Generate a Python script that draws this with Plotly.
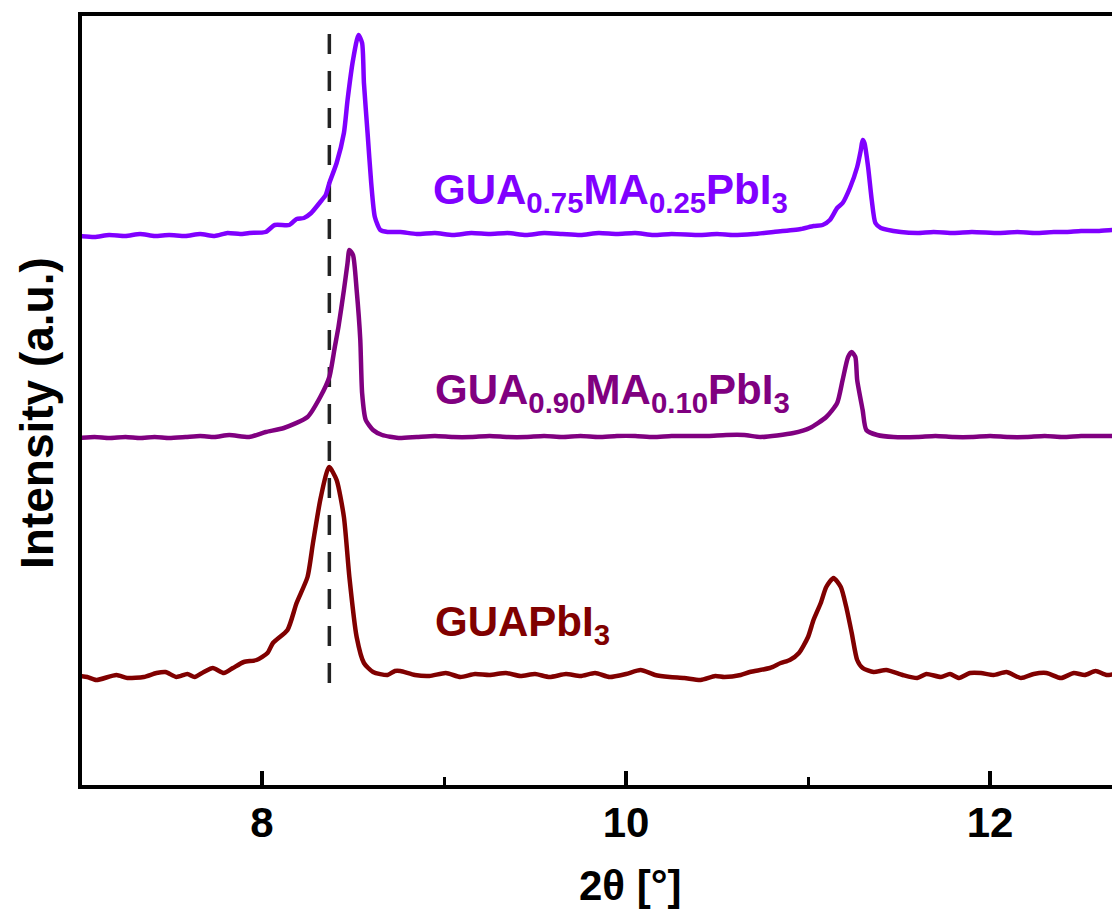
import plotly.graph_objects as go

# ---- data (2theta in degrees, intensity in a.u.) ----
two_theta_a = [7.00, 7.08, 7.16, 7.25, 7.33, 7.41, 7.49, 7.58, 7.66, 7.74, 7.81, 7.88, 7.93, 8.02,
               8.07, 8.15, 8.19, 8.23, 8.27, 8.32, 8.35, 8.37, 8.41, 8.45, 8.47, 8.50, 8.53, 8.55,
               8.56, 8.58, 8.60, 8.62, 8.65, 8.69, 8.76, 8.85, 8.95, 9.05, 9.15, 9.25, 9.35, 9.45,
               9.55, 9.65, 9.75, 9.85, 9.95, 10.05, 10.15, 10.25, 10.41, 10.50, 10.59, 10.70, 10.81,
               10.96, 11.03, 11.08, 11.12, 11.16, 11.19, 11.23, 11.27, 11.29, 11.30, 11.31, 11.33,
               11.35, 11.37, 11.40, 11.51, 11.60, 11.69, 11.80, 11.90, 12.05, 12.15, 12.25, 12.35,
               12.42, 12.50, 12.60, 12.68, 12.71]
intensity_a = [551, 550, 552, 551, 553, 551, 552, 551, 553, 551, 554, 553, 554, 555,
               562, 562, 568, 569, 574, 585, 592, 604, 624, 654, 687, 727, 752, 744,
               704, 654, 604, 570, 557, 555, 555, 553, 554, 552, 554, 553, 554, 552,
               554, 553, 552, 554, 553, 554, 552, 553, 552, 553, 552, 553, 555,
               558, 561, 562, 567, 579, 584, 599, 620, 637, 647, 644, 620,
               587, 564, 559, 555, 554, 555, 554, 555, 554, 555, 554, 555,
               555, 556, 556, 557, 554]

two_theta_b = [7.00, 7.08, 7.16, 7.25, 7.33, 7.41, 7.49, 7.58, 7.66, 7.74, 7.82, 7.93, 8.02, 8.12,
               8.25, 8.32, 8.37, 8.40, 8.42, 8.45, 8.47, 8.48, 8.50, 8.52, 8.54, 8.55, 8.57, 8.61,
               8.66, 8.75, 8.85, 8.95, 9.05, 9.15, 9.25, 9.35, 9.45, 9.55, 9.65, 9.75, 9.85, 9.95,
               10.05, 10.15, 10.25, 10.35, 10.45, 10.55, 10.65, 10.74, 10.92, 11.01, 11.10, 11.16,
               11.19, 11.22, 11.24, 11.26, 11.27, 11.30, 11.32, 11.38, 11.47, 11.60, 11.70, 11.80,
               11.90, 12.00, 12.10, 12.20, 12.30, 12.40, 12.50, 12.60, 12.71]
intensity_b = [349, 350, 349, 350, 349, 350, 349, 350, 351, 350, 352, 350, 355, 359,
               370, 390, 410, 440, 460, 497, 524, 537, 532, 497, 447, 394, 367, 357,
               352, 349, 350, 351, 350, 350, 351, 350, 350, 351, 350, 351, 350, 351,
               351, 350, 351, 351, 351, 352, 352, 350, 354, 359, 370, 384,
               407, 430, 435, 430, 407, 377, 357, 352, 350, 350, 351, 350,
               350, 351, 350, 350, 351, 350, 351, 351, 351]

two_theta_c = [7.00, 7.04, 7.09, 7.20, 7.26, 7.35, 7.42, 7.47, 7.53, 7.59, 7.63, 7.68, 7.73,
               7.79, 7.84, 7.90, 7.97, 8.03, 8.06, 8.14, 8.19, 8.25, 8.28, 8.32, 8.36, 8.37, 8.41,
               8.45, 8.48, 8.52, 8.56, 8.61, 8.69, 8.73, 8.76, 8.84, 8.92, 9.01, 9.09, 9.17, 9.25,
               9.34, 9.42, 9.50, 9.58, 9.67, 9.75, 9.83, 9.91, 10.00, 10.08, 10.16, 10.24, 10.32,
               10.41, 10.49, 10.54, 10.63, 10.68, 10.79, 10.85, 10.90, 10.95, 11.00, 11.03, 11.07,
               11.10, 11.14, 11.18, 11.21, 11.24, 11.27, 11.30, 11.36, 11.43, 11.52, 11.60, 11.65,
               11.73, 11.78, 11.83, 11.89, 11.95, 12.02, 12.09, 12.17, 12.24, 12.31, 12.39, 12.46,
               12.52, 12.58, 12.64, 12.71]
intensity_c = [111, 110, 107, 112, 109, 110, 114, 115, 110, 113, 110, 115, 119,
               114, 119, 125, 127, 134, 144, 157, 184, 210, 244, 287, 317, 320, 307,
               270, 210, 150, 124, 115, 112, 116, 116, 112, 111, 114, 110, 113, 112,
               114, 111, 113, 110, 113, 111, 114, 110, 113, 117, 112, 110, 109,
               107, 111, 110, 112, 115, 119, 124, 127, 134, 150, 167, 184,
               200, 209, 200, 180, 154, 127, 119, 115, 117, 112, 109, 113,
               110, 113, 109, 114, 114, 112, 115, 109, 113, 114, 109, 114,
               112, 116, 112, 114]

ref_line_x = [8.37, 8.37]
ref_line_y = [104, 754]

labels = ["GUA<sub>0.75</sub>MA<sub>0.25</sub>PbI<sub>3</sub>",
          "GUA<sub>0.90</sub>MA<sub>0.10</sub>PbI<sub>3</sub>",
          "GUAPbI<sub>3</sub>"]
label_x = [8.93, 8.94, 8.94]
label_y = [595, 395, 163]
colors = ["#8000FF", "#800080", "#800000"]

tick_vals = [8, 10, 12]
tick_text = ["8", "10", "12"]

FONT = "Arial, Liberation Sans, sans-serif"

fig = go.Figure()
fig.add_trace(go.Scatter(x=ref_line_x, y=ref_line_y, mode="lines",
                         line=dict(color="#222222", width=3.5, dash="20px,17px"),
                         showlegend=False, hoverinfo="skip"))
for xs, ys, c in [(two_theta_a, intensity_a, colors[0]),
                  (two_theta_b, intensity_b, colors[1]),
                  (two_theta_c, intensity_c, colors[2])]:
    fig.add_trace(go.Scatter(x=xs, y=ys, mode="lines",
                             line=dict(color=c, width=4.5, shape="spline", smoothing=0.6),
                             showlegend=False))

for txt, lx, ly, c in zip(labels, label_x, label_y, colors):
    fig.add_annotation(x=lx, y=ly, xref="x", yref="y", text=txt, showarrow=False,
                       xanchor="left", yanchor="middle",
                       font=dict(family=FONT, size=42, color=c, weight="bold"))

# axis titles
fig.add_annotation(x=(37 - 82) / 1038, y=(785 - 413) / 769, xref="paper", yref="paper",
                   text="Intensity (a.u.)", textangle=-90, showarrow=False,
                   xanchor="center", yanchor="middle",
                   font=dict(family=FONT, size=46, color="black", weight="bold"))
fig.add_annotation(x=(630 - 82) / 1038, y=-(885 - 785) / 769, xref="paper", yref="paper",
                   text="2θ [°]", showarrow=False, xanchor="center", yanchor="middle",
                   font=dict(family=FONT, size=42, color="black", weight="bold"))

fig.update_layout(
    width=1112, height=905,
    margin=dict(l=74, r=0, t=8, b=128),
    plot_bgcolor="white", paper_bgcolor="white",
    xaxis=dict(range=[7.011, 12.714], showgrid=False, zeroline=False,
               showline=True, linecolor="black", linewidth=4, mirror=True,
               tickmode="array", tickvals=tick_vals, ticktext=tick_text,
               ticks="inside", ticklen=14, tickwidth=4, tickcolor="black",
               minor=dict(ticks="inside", ticklen=8, tickwidth=3, tickcolor="black",
                          tickvals=[9, 11]),
               tickfont=dict(family=FONT, size=42, color="black", weight="bold"),
               ticklabelstandoff=-2),
    yaxis=dict(range=[2, 771], showgrid=False, zeroline=False,
               showline=True, linecolor="black", linewidth=4, mirror=False,
               showticklabels=False, ticks=""),
)

fig.write_html("out.html")
